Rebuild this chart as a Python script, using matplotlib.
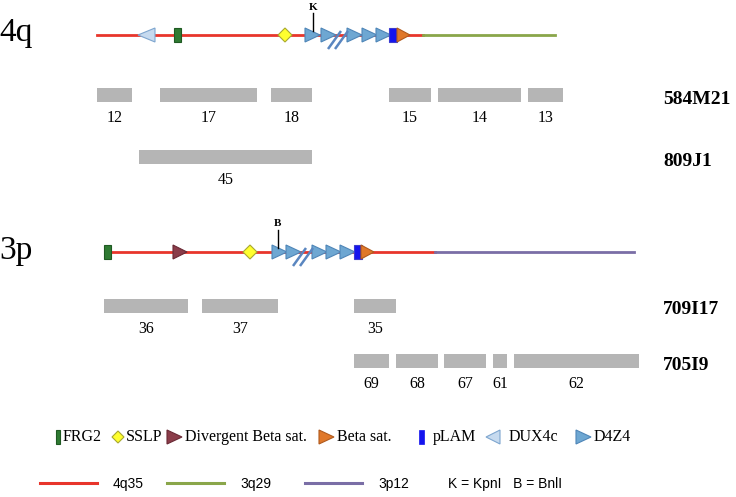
import matplotlib
matplotlib.use("Agg")
import matplotlib.pyplot as plt
from matplotlib.patches import Polygon, Rectangle

# Map of the 4q35 / 3p12 regions with the BAC/cosmid clones below.
# Everything is in picture units (pixels from the top-left corner).

# ---- chromosome tracks -------------------------------------------------
# 4q: red 4q35 part then 3q29 (green) part
track_4q_y = 35
track_4q_red = (97, 423)
track_4q_tail = (423, 555)
dux4c_4q = [138]
frg2_4q = [177]
sslp_4q = [285]
d4z4_4q = [305, 321, 347, 362, 376]
slash_4q = 328
plam_4q = 389
beta_4q = 397
kpn_4q = 313

# 3p: red 4q35-like part then 3p12 (purple) part
track_3p_y = 252
track_3p_red = (107, 435)
track_3p_tail = (435, 634)
frg2_3p = [107]
div_beta_3p = [173]
sslp_3p = [250]
d4z4_3p = [272, 286, 312, 326, 340]
slash_3p = 293
plam_3p = 354
beta_3p = 361
bnl_3p = 278

# ---- clones --------------------------------------------------------------
clone_names = ["584M21", "809J1", "709I17", "705I9"]
clone_rows = [95, 157, 306, 361]
clone_starts = [
    [97, 160, 271, 389, 438, 528],
    [139],
    [104, 202, 354],
    [354, 396, 444, 493, 514],
]
clone_ends = [
    [132, 257, 312, 431, 521, 563],
    [312],
    [188, 278, 396],
    [389, 438, 486, 507, 639],
]
clone_labels = [
    ["12", "17", "18", "15", "14", "13"],
    ["45"],
    ["36", "37", "35"],
    ["69", "68", "67", "61", "62"],
]

# ---- legend --------------------------------------------------------------
legend_items = ["FRG2", "SSLP", "Divergent Beta sat.", "Beta sat.", "pLAM", "DUX4c", "D4Z4"]
legend_x = [56, 118, 167, 319, 419, 486, 576]
line_items = ["4q35", "3q29", "3p12"]
line_x = [40, 167, 305]

RED = "#e8352b"
GREEN = "#8aa64a"
PURPLE = "#7a6ea6"
FRG2_C = "#2f7a32"
SSLP_C = "#ffff2e"
DIV_C = "#8b3d4a"
BETA_C = "#e0782a"
PLAM_C = "#1414ee"
DUX_C = "#c6daef"
D4Z4_C = "#6ea7d2"
BAR_C = "#b5b5b5"

SERIF = "Liberation Serif"
SANS = "Liberation Sans"

fig = plt.figure(figsize=(7.36, 4.97), dpi=100)
ax = fig.add_axes([0, 0, 1, 1])
ax.set_xlim(0, 736)
ax.set_ylim(497, 0)
ax.axis("off")


def tri_right(x0, y, c, ec, w=15, h=7, z=4):
    ax.add_patch(Polygon([(x0, y - h), (x0, y + h), (x0 + w, y)], closed=True,
                         fc=c, ec=ec, lw=0.8, zorder=z))


def tri_left(x0, y, c, ec, w=15, h=7, z=4):
    ax.add_patch(Polygon([(x0 + w, y - h), (x0 + w, y + h), (x0, y)], closed=True,
                         fc=c, ec=ec, lw=0.8, zorder=z))


def diamond(xc, y, c, ec, r=7, z=4):
    ax.add_patch(Polygon([(xc - r, y), (xc, y - r), (xc + r, y), (xc, y + r)],
                         closed=True, fc=c, ec=ec, lw=0.8, zorder=z))


def block(xc, y, c, ec, w=7, h=7, z=4):
    ax.add_patch(Rectangle((xc - w / 2, y - h), w, 2 * h, fc=c, ec=ec, lw=0.8, zorder=z))


def slashes(x, y):
    for dx in (0, 7):
        ax.plot([x + dx, x + dx + 13], [y + 14, y - 4], color="#5a86c0", lw=1.8,
                zorder=5, solid_capstyle="butt")


def repeat_block(d4z4, slash, plam, beta, y):
    for x0 in d4z4:
        tri_right(x0, y, D4Z4_C, "#4f86b8")
    slashes(slash, y)
    ax.add_patch(Rectangle((plam, y - 7), 8, 14, fc=PLAM_C, ec="#3b3bd0", lw=0.8, zorder=4))
    tri_right(beta, y, BETA_C, "#b05a1e", w=13)


# 4q track
ax.plot(track_4q_red, [track_4q_y] * 2, color=RED, lw=2, zorder=2)
ax.plot(track_4q_tail, [track_4q_y] * 2, color=GREEN, lw=2, zorder=2)
for x in dux4c_4q:
    tri_left(x, track_4q_y, DUX_C, "#7ea6cf", w=17)
for x in frg2_4q:
    block(x, track_4q_y, FRG2_C, "#1f5a22")
for x in sslp_4q:
    diamond(x, track_4q_y, SSLP_C, "#a8a830")
repeat_block(d4z4_4q, slash_4q, plam_4q, beta_4q, track_4q_y)
ax.plot([kpn_4q, kpn_4q], [13, track_4q_y - 4], color="black", lw=1, zorder=6)
ax.text(kpn_4q, 8, "K", ha="center", va="center", fontsize=8, fontweight="bold", family=SERIF)
ax.text(-1, 33, "4q", ha="left", va="center", fontsize=24, family=SERIF)

# 3p track
ax.plot(track_3p_red, [track_3p_y] * 2, color=RED, lw=2, zorder=2)
ax.plot(track_3p_tail, [track_3p_y] * 2, color=PURPLE, lw=2, zorder=2)
for x in frg2_3p:
    block(x, track_3p_y, FRG2_C, "#1f5a22")
for x in div_beta_3p:
    tri_right(x, track_3p_y, DIV_C, "#6a2a35", w=14)
for x in sslp_3p:
    diamond(x, track_3p_y, SSLP_C, "#a8a830")
repeat_block(d4z4_3p, slash_3p, plam_3p, beta_3p, track_3p_y)
ax.plot([bnl_3p, bnl_3p], [230, track_3p_y - 4], color="black", lw=1, zorder=6)
ax.text(bnl_3p, 223, "B", ha="center", va="center", fontsize=8, fontweight="bold", family=SERIF)
ax.text(-1, 251, "3p", ha="left", va="center", fontsize=24, family=SERIF)

# clones
for name, row, starts, ends, labels in zip(clone_names, clone_rows, clone_starts,
                                           clone_ends, clone_labels):
    widths = [e - s for s, e in zip(starts, ends)]
    ax.barh([row] * len(starts), widths, left=starts, height=14, color=BAR_C, zorder=3)
    for s, w, lab in zip(starts, widths, labels):
        ax.text(s + w / 2, row + 23, lab, ha="center", va="center", fontsize=11.5, family=SERIF)
    ax.text(663, row + 4, name, ha="left", va="center", fontsize=14,
            fontweight="bold", family=SERIF)

# symbol legend
ly = 437
for lab, x in zip(legend_items, legend_x):
    if lab == "FRG2":
        block(x + 2, ly, FRG2_C, "#1f5a22", w=4, h=7)
        tx = x + 7
    elif lab == "SSLP":
        diamond(x, ly, SSLP_C, "#a8a830", r=6)
        tx = x + 8
    elif lab == "Divergent Beta sat.":
        tri_right(x, ly, DIV_C, "#6a2a35", w=15, h=7)
        tx = x + 18
    elif lab == "Beta sat.":
        tri_right(x, ly, BETA_C, "#b05a1e", w=15, h=7)
        tx = x + 18
    elif lab == "pLAM":
        ax.add_patch(Rectangle((x, ly - 7), 5, 14, fc=PLAM_C, ec=PLAM_C, lw=0.5, zorder=4))
        tx = x + 14
    elif lab == "DUX4c":
        tri_left(x, ly, DUX_C, "#7ea6cf", w=14, h=7)
        tx = x + 23
    else:
        tri_right(x, ly, D4Z4_C, "#4f86b8", w=15, h=7)
        tx = x + 18
    ax.text(tx, ly, lab, ha="left", va="center", fontsize=11.5, family=SERIF)

# line legend
by = 484
for lab, x, c in zip(line_items, line_x, [RED, GREEN, PURPLE]):
    ax.plot([x, x + 57], [by - 1, by - 1], color=c, lw=2.2)
    ax.text(x + 73, by, lab, ha="left", va="center", fontsize=10, family=SANS)
ax.text(448, by, "K = KpnI   B = BnlI", ha="left", va="center", fontsize=10, family=SANS)

plt.savefig("out.png", dpi=100)
